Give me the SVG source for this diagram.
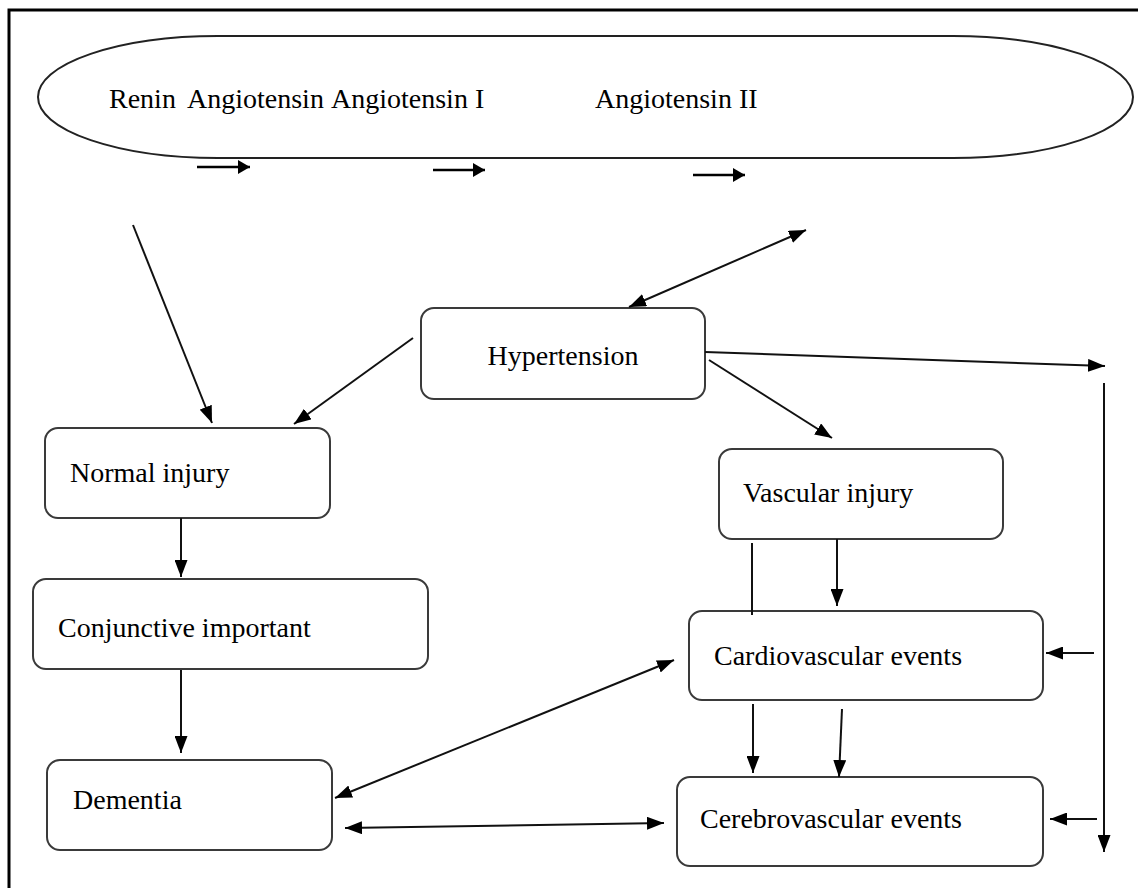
<svg xmlns="http://www.w3.org/2000/svg" width="1138" height="888" viewBox="0 0 1138 888">
<style>
.box{fill:#fff;stroke:#3a3a3a;stroke-width:2}
.t{font-family:"Liberation Serif","Times New Roman",serif;font-size:28px;fill:#000}
.c{stroke:#111;stroke-width:2;fill:none}
.s{stroke:#000;stroke-width:2.5;fill:none}
</style>
<defs>
<marker id="ah" markerUnits="userSpaceOnUse" viewBox="0 0 17 13" refX="17" refY="6.5" markerWidth="17" markerHeight="13" orient="auto-start-reverse">
<path d="M0,0 L17,6.5 L0,13 z" fill="#000"/>
</marker>
<marker id="sh" markerUnits="userSpaceOnUse" viewBox="0 0 12 14" refX="12" refY="7" markerWidth="12" markerHeight="14" orient="auto">
<path d="M0,0 L12,7 L0,14 z" fill="#000"/>
</marker>
</defs>
<rect width="1138" height="888" fill="#fff"/>
<path d="M9,888 V10 H1138" fill="none" stroke="#000" stroke-width="3"/>
<g id="raas">
<rect x="38" y="36" width="1095" height="122" rx="180" ry="61" fill="#fff" stroke="#222" stroke-width="2"/>
<text class="t" x="109" y="108">Renin</text>
<text class="t" x="187" y="108">Angiotensin</text>
<text class="t" x="331" y="108">Angiotensin I</text>
<text class="t" x="595" y="108">Angiotensin II</text>
</g>
<g id="hypertension">
<rect class="box" x="421" y="308" width="284" height="91" rx="13"/>
<text class="t" x="563" y="365" text-anchor="middle">Hypertension</text>
</g>
<g id="normal-injury">
<rect class="box" x="45" y="428" width="285" height="90" rx="13"/>
<text class="t" x="70" y="482">Normal injury</text>
</g>
<g id="conjunctive-important">
<rect class="box" x="33" y="579" width="395" height="90" rx="13"/>
<text class="t" x="58" y="637">Conjunctive important</text>
</g>
<g id="dementia">
<rect class="box" x="47" y="760" width="285" height="90" rx="13"/>
<text class="t" x="73" y="809">Dementia</text>
</g>
<g id="vascular-injury">
<rect class="box" x="719" y="449" width="284" height="90" rx="13"/>
<text class="t" x="743" y="502">Vascular injury</text>
</g>
<g id="cardiovascular-events">
<rect class="box" x="689" y="611" width="354" height="89" rx="13"/>
<text class="t" x="714" y="665">Cardiovascular events</text>
</g>
<g id="cerebrovascular-events">
<rect class="box" x="677" y="777" width="366" height="89" rx="13"/>
<text class="t" x="700" y="828">Cerebrovascular events</text>
</g>
<g id="connectors">
<line class="s" x1="197" y1="167" x2="250" y2="167" marker-end="url(#sh)"/>
<line class="s" x1="433" y1="170" x2="485" y2="170" marker-end="url(#sh)"/>
<line class="s" x1="693" y1="175" x2="745" y2="175" marker-end="url(#sh)"/>
<line class="c" x1="133" y1="225" x2="212" y2="423" marker-end="url(#ah)"/>
<line class="c" x1="629" y1="307" x2="806" y2="230" marker-start="url(#ah)" marker-end="url(#ah)"/>
<line class="c" x1="413" y1="338" x2="294" y2="424" marker-end="url(#ah)"/>
<line class="c" x1="705" y1="352" x2="1105" y2="366" marker-end="url(#ah)"/>
<line class="c" x1="709" y1="360" x2="832" y2="438" marker-end="url(#ah)"/>
<line class="c" x1="1104" y1="383" x2="1104" y2="852" marker-end="url(#ah)"/>
<line class="c" x1="181" y1="518" x2="181" y2="577" marker-end="url(#ah)"/>
<line class="c" x1="181" y1="670" x2="181" y2="753" marker-end="url(#ah)"/>
<line class="c" x1="752" y1="543" x2="752" y2="615"/>
<line class="c" x1="837" y1="539" x2="837" y2="606" marker-end="url(#ah)"/>
<line class="c" x1="1094" y1="653" x2="1046" y2="653" marker-end="url(#ah)"/>
<line class="c" x1="335" y1="798" x2="674" y2="660" marker-start="url(#ah)" marker-end="url(#ah)"/>
<line class="c" x1="753" y1="704" x2="753" y2="773" marker-end="url(#ah)"/>
<line class="c" x1="842" y1="709" x2="839" y2="777" marker-end="url(#ah)"/>
<line class="c" x1="345" y1="828" x2="664" y2="823" marker-start="url(#ah)" marker-end="url(#ah)"/>
<line class="c" x1="1097" y1="819" x2="1050" y2="819" marker-end="url(#ah)"/>
</g>
</svg>
